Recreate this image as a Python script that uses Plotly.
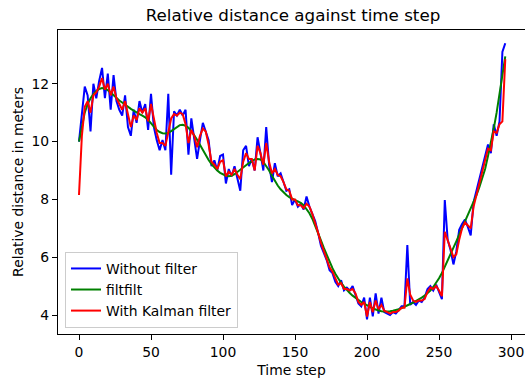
import plotly.graph_objects as go

# time steps (every 2nd step of the original series)
time_step = list(range(0, 297, 2))

without_filter = [
    10.0, 11.0, 11.9, 11.6, 10.35, 12.0, 11.5, 12.1, 12.55, 11.5,
    12.35, 11.1, 12.3, 11.4, 11.1, 10.9, 11.6, 10.5, 10.2, 11.1,
    10.65, 11.4, 11.0, 11.3, 10.4, 11.65, 10.5, 10.05, 9.7, 10.05,
    9.7, 11.65, 8.85, 11.05, 10.9, 11.1, 10.9, 11.1, 9.55, 10.8,
    10.05, 9.4, 10.05, 10.65, 10.35, 10.05, 9.15, 9.35, 9.0, 9.5,
    9.55, 8.55, 9.05, 8.8, 9.15, 8.75, 8.3, 9.7, 9.85, 9.15,
    9.4, 9.0, 10.15, 9.6, 9.0, 10.5, 9.2, 8.6, 9.25, 8.8,
    8.9, 8.6, 8.3, 8.35, 7.8, 8.0, 7.75, 7.85, 7.65, 8.1,
    7.75, 7.5, 7.25, 6.85, 6.4, 6.15, 5.9, 5.55, 5.45, 5.15,
    5.0, 5.2, 4.85, 4.95, 4.85, 5.0, 4.7, 4.4, 4.3, 4.6,
    3.85, 4.6, 3.95, 4.75, 4.05, 4.6, 4.1, 4.05, 4.0, 4.1,
    4.05, 4.17, 4.3, 4.3, 6.42, 4.35, 4.45, 4.35, 4.5, 4.45,
    4.6, 4.9, 5.0, 4.85, 5.05, 4.8, 4.55, 7.98, 6.6, 6.25,
    5.75, 6.2, 6.95, 7.15, 7.3, 7.05, 6.75, 7.9, 8.3, 8.7,
    9.2, 9.5, 9.9, 9.6, 10.6, 10.2, 10.7, 13.1, 13.4,
]

filtfilt = [
    10.0, 10.55, 11.0, 11.3, 11.5, 11.64, 11.75, 11.82, 11.85, 11.83,
    11.78, 11.7, 11.6, 11.5, 11.42, 11.35, 11.27, 11.2, 11.13, 11.07,
    11.0, 10.95, 10.9, 10.84, 10.75, 10.62, 10.5, 10.4, 10.33, 10.29,
    10.28, 10.3, 10.36, 10.44, 10.52, 10.57, 10.58, 10.55, 10.48, 10.36,
    10.22, 10.06, 9.88, 9.7, 9.52, 9.36, 9.22, 9.1, 9.0, 8.92,
    8.86, 8.82, 8.8, 8.82, 8.87, 8.94, 9.02, 9.1, 9.18, 9.26,
    9.33, 9.38, 9.4, 9.38, 9.3, 9.17, 9.0, 8.82, 8.64, 8.48,
    8.35, 8.24, 8.15, 8.08, 8.02, 7.97, 7.93, 7.88, 7.8, 7.68,
    7.52, 7.33, 7.1, 6.85, 6.58, 6.32, 6.07, 5.84, 5.62, 5.43,
    5.26, 5.11, 4.98, 4.86, 4.76, 4.67, 4.59, 4.52, 4.45, 4.39,
    4.33, 4.28, 4.23, 4.19, 4.15, 4.13, 4.12, 4.12, 4.13, 4.15,
    4.17, 4.2, 4.24, 4.28, 4.33, 4.38, 4.43, 4.48, 4.54, 4.6,
    4.67, 4.75, 4.85, 4.97, 5.11, 5.27, 5.45, 5.66, 5.88, 6.1,
    6.32, 6.55, 6.78, 7.0, 7.22, 7.44, 7.66, 7.9, 8.15, 8.42,
    8.72, 9.05, 9.5, 9.95, 10.45, 11.0, 11.6, 12.25, 12.95,
]

kalman = [
    8.15, 10.2, 11.2, 11.4, 11.0, 11.6, 11.7, 11.9, 12.2, 11.8,
    12.0, 11.6, 11.9, 11.5, 11.3, 11.1, 11.4, 10.9, 10.5, 10.9,
    10.75, 11.15, 11.0, 11.15, 10.7, 11.3, 10.8, 10.3, 9.95, 9.95,
    9.85, 10.3, 10.8, 10.95, 10.9, 11.0, 10.95, 10.6, 9.95, 10.4,
    10.2, 9.8, 10.2, 10.45, 10.35, 9.9, 9.3, 9.2, 9.05, 9.3,
    9.35, 8.8, 8.95, 8.85, 9.05, 8.85, 8.7, 9.3, 9.6, 9.4,
    9.4, 9.0, 9.85, 9.6, 9.2, 9.95, 9.3, 8.9, 9.05, 8.85,
    8.8, 8.6, 8.35, 8.3, 8.0, 8.0, 7.8, 7.8, 7.7, 7.85,
    7.75, 7.5, 7.2, 6.85, 6.5, 6.2, 5.95, 5.65, 5.5, 5.25,
    5.05, 5.1, 4.9, 4.9, 4.85, 4.9, 4.75, 4.45, 4.35, 4.45,
    3.95, 4.45, 4.1, 4.5, 4.2, 4.35, 4.15, 4.1, 4.05, 4.1,
    4.1, 4.15, 4.25, 4.25, 5.27, 4.7, 4.5, 4.45, 4.5, 4.5,
    4.55, 4.8, 4.95, 4.9, 5.0, 4.85, 4.65, 6.88, 6.55, 6.3,
    6.0, 6.1, 6.6, 7.0, 7.2, 7.1, 7.0, 7.75, 8.15, 8.55,
    9.0, 9.35, 9.75, 9.7, 10.35, 10.3, 10.6, 10.7, 12.85,
]

x_ticks = [0, 50, 100, 150, 200, 250, 300]
y_ticks = [4, 6, 8, 10, 12]

FONT = "DejaVu Sans"
LW = 2.0

fig = go.Figure()
fig.add_trace(go.Scatter(x=time_step, y=without_filter, mode="lines",
                         name="Without filter", line=dict(color="#0000ff", width=LW)))
fig.add_trace(go.Scatter(x=time_step, y=filtfilt, mode="lines",
                         name="filtfilt", line=dict(color="#008000", width=LW)))
fig.add_trace(go.Scatter(x=time_step, y=kalman, mode="lines",
                         name="With Kalman filter", line=dict(color="#ff0000", width=LW)))

fig.update_layout(
    width=525, height=381,
    margin=dict(l=58, r=0, t=30, b=47),
    paper_bgcolor="white", plot_bgcolor="white",
    font=dict(family=FONT, size=14, color="black"),
    title=dict(text="Relative distance against time step", x=293/525, xanchor="center",
               y=1 - 15/381, yanchor="middle", font=dict(size=16.7, color="black")),
    showlegend=True,
    legend=dict(x=0.015, y=0.02, xanchor="left", yanchor="bottom",
                bgcolor="rgba(255,255,255,0.8)", bordercolor="#cccccc", borderwidth=1,
                font=dict(size=13.9, color="black"), itemwidth=30, tracegroupgap=0),
)
fig.update_xaxes(range=[-14.58, 309.7], tickvals=x_ticks, ticks="outside", ticklen=5,
                 tickwidth=1.1, tickcolor="black", showline=True, linecolor="black",
                 linewidth=1.1, mirror=True, showgrid=False, zeroline=False,
                 tickfont=dict(size=13.9),
                 title=dict(text="Time step", font=dict(size=13.9), standoff=6))
fig.update_yaxes(range=[3.343, 13.86], tickvals=y_ticks, ticks="outside", ticklen=5,
                 tickwidth=1.1, tickcolor="black", showline=True, linecolor="black",
                 linewidth=1.1, mirror=False, showgrid=False, zeroline=False,
                 tickfont=dict(size=13.9),
                 title=dict(text="Relative distance in meters", font=dict(size=13.9), standoff=4))

fig.write_html("out.html")
